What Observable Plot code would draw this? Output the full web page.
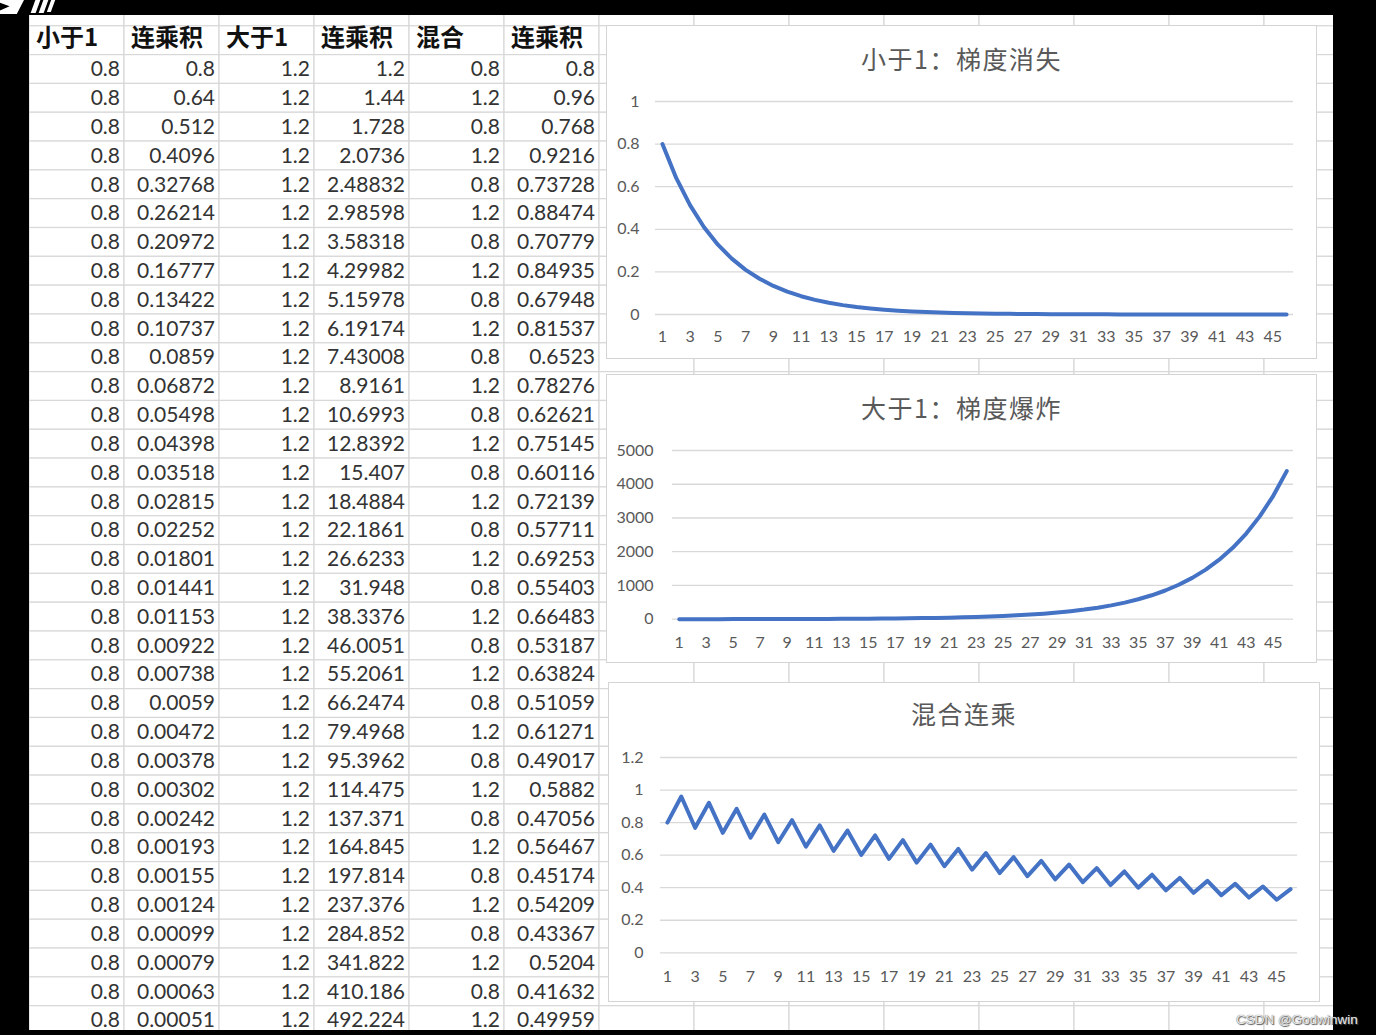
<!DOCTYPE html>
<html>
<head>
<meta charset="utf-8">
<script src="https://cdn.jsdelivr.net/npm/d3@7"></script>
<script src="https://cdn.jsdelivr.net/npm/@observablehq/plot@0.6"></script>
<style>
html, body { margin: 0; padding: 0; background: #000; width: 1376px; height: 1035px; overflow: hidden; }
#page { position: relative; width: 1376px; height: 1035px; background: #000; }
#sheet { position: absolute; left: 0; top: 0; width: 1333px; height: 1030px; clip-path: inset(15px 0px 0px 29px); }
#sheet svg { max-width: none; display: block; }
.chart { position: absolute; }
.chart .frame { position: absolute; left: 0; top: 0; right: 0; bottom: 0; border: 1.5px solid #d4d4d4; background: #fff; box-sizing: border-box; }
.chart svg { position: absolute; left: 0; top: 0; max-width: none; }
.chart .title { position: absolute; left: 0; right: 0; text-align: center; font-family: "Noto Sans CJK SC", sans-serif; font-size: 25px; letter-spacing: 1.5px; color: #595959; line-height: 30px; }
#wm { position: absolute; left: 1236px; top: 1011px; font-family: "Liberation Sans", sans-serif; font-size: 13.5px; line-height: 18px; color: #e8e8e8; text-shadow: 0 0 1px #555, 1px 1px 1px #555; white-space: nowrap; }
.logo { position: absolute; background: #fff; }
</style>
</head>
<body>
<div id="page">
  <div class="logo" style="left:0;top:0;width:24px;height:14px;clip-path:polygon(0 0,100% 0,70% 100%,0 100%,0 75%,40% 45%,0 20%);"></div>
  <div class="logo" style="left:33px;top:0;width:5px;height:13px;transform:skewX(-20deg);"></div>
  <div class="logo" style="left:41px;top:0;width:5px;height:13px;transform:skewX(-20deg);"></div>
  <div class="logo" style="left:49px;top:0;width:4px;height:12px;transform:skewX(-20deg);"></div>
  <div id="sheet"></div>
  <div class="chart" id="c1" style="left:606px;top:25px;width:711px;height:334px;"><div class="frame"></div></div>
  <div class="chart" id="c2" style="left:606px;top:374px;width:711px;height:289px;"><div class="frame"></div></div>
  <div class="chart" id="c3" style="left:608px;top:682px;width:712px;height:320px;"><div class="frame"></div></div>
  <div id="wm">CSDN @Godwinwin</div>
</div>
<script>
// ---------- spreadsheet table (as displayed) ----------
const headers = ["小于1", "连乘积", "大于1", "连乘积", "混合", "连乘积"];
const lessOne = ["0.8","0.8","0.8","0.8","0.8","0.8","0.8","0.8","0.8","0.8","0.8","0.8","0.8","0.8","0.8","0.8","0.8","0.8","0.8","0.8","0.8","0.8","0.8","0.8","0.8","0.8","0.8","0.8","0.8","0.8","0.8","0.8","0.8","0.8"];
const lessProd = ["0.8","0.64","0.512","0.4096","0.32768","0.26214","0.20972","0.16777","0.13422","0.10737","0.0859","0.06872","0.05498","0.04398","0.03518","0.02815","0.02252","0.01801","0.01441","0.01153","0.00922","0.00738","0.0059","0.00472","0.00378","0.00302","0.00242","0.00193","0.00155","0.00124","0.00099","0.00079","0.00063","0.00051"];
const moreOne = ["1.2","1.2","1.2","1.2","1.2","1.2","1.2","1.2","1.2","1.2","1.2","1.2","1.2","1.2","1.2","1.2","1.2","1.2","1.2","1.2","1.2","1.2","1.2","1.2","1.2","1.2","1.2","1.2","1.2","1.2","1.2","1.2","1.2","1.2"];
const moreProd = ["1.2","1.44","1.728","2.0736","2.48832","2.98598","3.58318","4.29982","5.15978","6.19174","7.43008","8.9161","10.6993","12.8392","15.407","18.4884","22.1861","26.6233","31.948","38.3376","46.0051","55.2061","66.2474","79.4968","95.3962","114.475","137.371","164.845","197.814","237.376","284.852","341.822","410.186","492.224"];
const mixOne = ["0.8","1.2","0.8","1.2","0.8","1.2","0.8","1.2","0.8","1.2","0.8","1.2","0.8","1.2","0.8","1.2","0.8","1.2","0.8","1.2","0.8","1.2","0.8","1.2","0.8","1.2","0.8","1.2","0.8","1.2","0.8","1.2","0.8","1.2"];
const mixProd = ["0.8","0.96","0.768","0.9216","0.73728","0.88474","0.70779","0.84935","0.67948","0.81537","0.6523","0.78276","0.62621","0.75145","0.60116","0.72139","0.57711","0.69253","0.55403","0.66483","0.53187","0.63824","0.51059","0.61271","0.49017","0.5882","0.47056","0.56467","0.45174","0.54209","0.43367","0.5204","0.41632","0.49959"];

// ---------- chart series (46 points each) ----------
const vanishSeries = [0.8,0.64,0.512,0.4096,0.32768,0.26214,0.20972,0.16777,0.13422,0.10737,0.0859,0.06872,0.05498,0.04398,0.03518,0.02815,0.02252,0.01801,0.01441,0.01153,0.00922,0.00738,0.0059,0.00472,0.00378,0.00302,0.00242,0.00193,0.00155,0.00124,0.00099,0.00079,0.00063,0.00051,0.00041,0.00032,0.00026,0.00021,0.00017,0.00013,0.00011,0.00009,0.00007,0.00005,0.00004,0.00003];
const explodeSeries = [1.2,1.44,1.728,2.0736,2.48832,2.98598,3.58318,4.29982,5.15978,6.19174,7.43008,8.9161,10.6993,12.8392,15.407,18.4884,22.1861,26.6233,31.948,38.3376,46.0051,55.2061,66.2474,79.4968,95.3962,114.475,137.371,164.845,197.814,237.376,284.852,341.822,410.186,492.224,590.668,708.802,850.562,1020.67,1224.81,1469.77,1763.73,2116.47,2539.77,3047.72,3657.26,4388.71];
const mixedSeries = [0.8,0.96,0.768,0.9216,0.73728,0.88474,0.70779,0.84935,0.67948,0.81537,0.6523,0.78276,0.62621,0.75145,0.60116,0.72139,0.57711,0.69253,0.55403,0.66483,0.53187,0.63824,0.51059,0.61271,0.49017,0.5882,0.47056,0.56467,0.45174,0.54209,0.43367,0.5204,0.41632,0.49959,0.39967,0.4796,0.38368,0.46042,0.36834,0.442,0.3536,0.42432,0.33946,0.40735,0.32588,0.39106];

const chartTitles = ["小于1：梯度消失", "大于1：梯度爆炸", "混合连乘"];
const xTickLabels = [1,3,5,7,9,11,13,15,17,19,21,23,25,27,29,31,33,35,37,39,41,43,45];
const yTicks1 = [0, 0.2, 0.4, 0.6, 0.8, 1];
const yTicks2 = [0, 1000, 2000, 3000, 4000, 5000];
const yTicks3 = [0, 0.2, 0.4, 0.6, 0.8, 1, 1.2];

// ---------- build spreadsheet ----------
const sheetCols = ["A","B","C","D","E","F","G","H","I","J","K","L","M","N"];
const dataRowIds = d3.range(1, lessOne.length + 1);
const sheetRows = ["r0", "h", ...dataRowIds];
const cells = sheetRows.flatMap(r => sheetCols.map(c => ({r, c})));
const headerData = headers.map((t, i) => ({c: sheetCols[i], r: "h", t}));
const tableColumns = [lessOne, lessProd, moreOne, moreProd, mixOne, mixProd];
const numData = tableColumns.flatMap((arr, j) => arr.map((t, i) => ({c: sheetCols[j], r: dataRowIds[i], t})));

const sheet = Plot.plot({
  width: 1333, height: 1030, margin: 0,
  style: {background: "#fff", fontFamily: "Lato"},
  x: {type: "band", domain: sheetCols, range: [29, 1359], padding: 0, round: false, axis: null},
  y: {type: "band", domain: sheetRows, range: [-3.04, 1034.5], padding: 0, round: false, axis: null},
  marks: [
    Plot.cell(cells, {x: "c", y: "r", fill: "#fff", stroke: "#d8d8d8", strokeWidth: 1.2}),
    Plot.text(headerData, {x: "c", y: "r", text: "t", textAnchor: "start", dx: -41, dy: -2, fontSize: 24, fontWeight: "bold", fontFamily: "Noto Sans CJK SC", fill: "#111"}),
    Plot.text(numData, {x: "c", y: "r", text: "t", textAnchor: "end", dx: 43, fontSize: 21, fontFamily: "Lato", fill: "#333"})
  ]
});
document.getElementById("sheet").appendChild(sheet);

// ---------- charts ----------
const fmtNum = d3.format("~g");
function lineChart(id, opts) {
  const host = document.getElementById(id);
  const idx = d3.range(1, opts.series.length + 1);
  const data = opts.series.map((v, i) => ({i: idx[i], v}));
  const svg = Plot.plot({
    width: opts.width, height: opts.height,
    marginLeft: opts.m[0], marginRight: opts.m[1], marginTop: opts.m[2], marginBottom: opts.m[3],
    style: {background: "transparent", fontFamily: "Lato", overflow: "visible"},
    x: {type: "point", domain: idx, padding: 0.5, round: false, axis: null},
    y: {domain: opts.yDomain, axis: null},
    marks: [
      Plot.ruleY(opts.yTicks, {stroke: "#d9d9d9", strokeWidth: 1.3}),
      Plot.text(opts.yTicks, {y: d => d, text: opts.fmt, frameAnchor: "left", textAnchor: "end", lineAnchor: "middle", dx: -opts.yPad, fontSize: 16, fill: "#595959"}),
      Plot.text(xTickLabels, {x: d => d, text: d => String(d), frameAnchor: "bottom", lineAnchor: "middle", dy: opts.xPad, fontSize: 16, fill: "#595959"}),
      Plot.line(data, {x: "i", y: "v", stroke: "#4472C4", strokeWidth: 4, strokeLinejoin: "round", strokeLinecap: "round"})
    ]
  });
  host.appendChild(svg);
  const t = document.createElement("div");
  t.className = "title";
  t.style.top = (opts.titleCenter - 15) + "px";
  t.textContent = opts.title;
  host.appendChild(t);
}

lineChart("c1", {series: vanishSeries, title: chartTitles[0], titleCenter: 33, width: 711, height: 334,
  m: [49, 24, 76, 45], yDomain: [0, 1], yTicks: yTicks1, fmt: fmtNum, yPad: 16, xPad: 22.7});
lineChart("c2", {series: explodeSeries, title: chartTitles[1], titleCenter: 33, width: 711, height: 289,
  m: [66, 24, 76, 44.3], yDomain: [0, 5000], yTicks: yTicks2, fmt: d3.format("d"), yPad: 19, xPad: 24});
lineChart("c3", {series: mixedSeries, title: chartTitles[2], titleCenter: 31, width: 712, height: 320,
  m: [52, 23, 75, 49.7], yDomain: [0, 1.2], yTicks: yTicks3, fmt: fmtNum, yPad: 17, xPad: 24.4});
</script>
</body>
</html>
